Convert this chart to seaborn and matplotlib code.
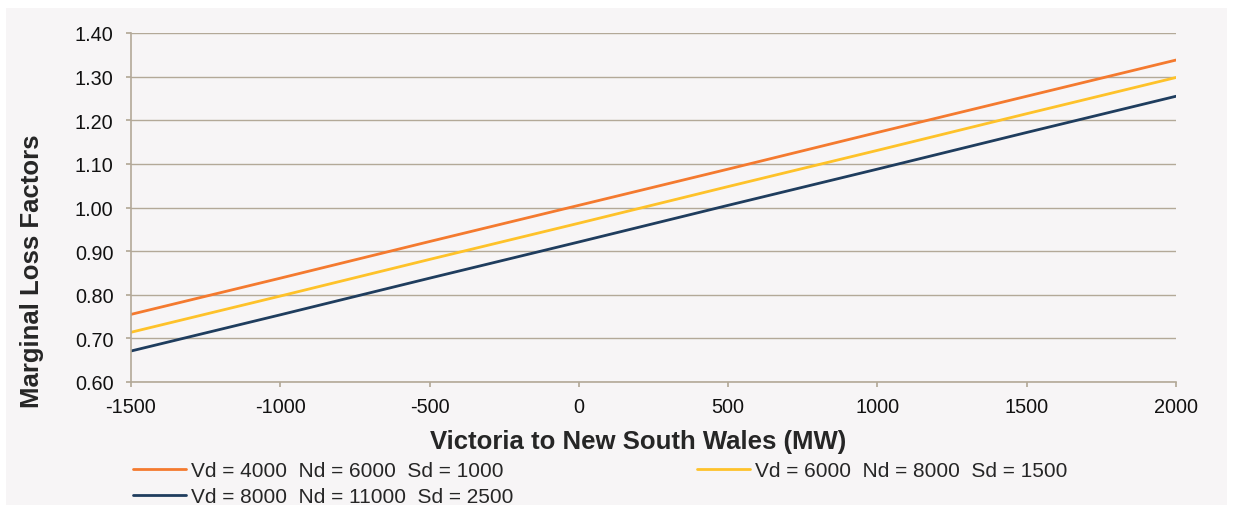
import numpy as np
import pandas as pd
import matplotlib
matplotlib.use('Agg')
import matplotlib.pyplot as plt
import seaborn as sns

# Data
flow_mw = [-1500, -1000, -500, 0, 500, 1000, 1500, 2000]
mlf_low = [0.755, 0.838, 0.922, 1.005, 1.088, 1.172, 1.255, 1.338]
mlf_mid = [0.714, 0.797, 0.881, 0.964, 1.048, 1.131, 1.215, 1.298]
mlf_high = [0.671, 0.754, 0.838, 0.921, 1.005, 1.088, 1.172, 1.255]
labels = ['Vd = 4000  Nd = 6000  Sd = 1000',
          'Vd = 6000  Nd = 8000  Sd = 1500',
          'Vd = 8000  Nd = 11000  Sd = 2500']
colors = ['#f47a2f', '#fec22a', '#1f3d5e']
y_ticks = [0.60, 0.70, 0.80, 0.90, 1.00, 1.10, 1.20, 1.30, 1.40]
x_ticks = [-1500, -1000, -500, 0, 500, 1000, 1500, 2000]

df = pd.DataFrame({
    'flow': flow_mw * 3,
    'mlf': mlf_low + mlf_mid + mlf_high,
    'case': [labels[0]] * 8 + [labels[1]] * 8 + [labels[2]] * 8,
})

sns.set_theme(style='white')
plt.rcParams['font.family'] = ['Liberation Sans', 'DejaVu Sans']

bg = '#f7f5f6'
grid_c = '#b3a998'

fig = plt.figure(figsize=(12.33, 5.06), dpi=100, facecolor='white')
fig.patches.append(plt.Rectangle((6 / 1233, 0), 1 - 12 / 1233, 1 - 9 / 506,
                                 transform=fig.transFigure, facecolor=bg,
                                 edgecolor='none', zorder=-10))
ax = fig.add_axes([131 / 1233, 1 - 383 / 506, (1176 - 131) / 1233, (383 - 34) / 506])
ax.set_facecolor(bg)

sns.lineplot(data=df, x='flow', y='mlf', hue='case', palette=colors,
             hue_order=labels, linewidth=2, ax=ax, legend=False)

ax.set_xlim(-1500, 2000)
ax.set_ylim(0.6, 1.4)
ax.set_xticks(x_ticks)
ax.set_yticks(y_ticks)
ax.set_xticklabels([str(v) for v in x_ticks], fontsize=14.3)
ax.set_yticklabels([f'{v:.2f}' for v in y_ticks], fontsize=14.3)
ax.yaxis.grid(True, color=grid_c, linewidth=1)
ax.set_axisbelow(True)
for s in ['top', 'right']:
    ax.spines[s].set_visible(False)
for s in ['left', 'bottom']:
    ax.spines[s].set_color(grid_c)
    ax.spines[s].set_linewidth(1.2)
ax.tick_params(axis='both', direction='out', length=3.6, color=grid_c,
               left=True, bottom=True, labelcolor='#111111')
ax.tick_params(axis='y', pad=9)
ax.tick_params(axis='x', pad=7)

ax.set_xlabel('Victoria to New South Wales (MW)', fontsize=18.5, fontweight='bold')
ax.set_ylabel('Marginal Loss Factors', fontsize=18.5, fontweight='bold')
ax.xaxis.set_label_coords(0.485, -0.135)
ax.yaxis.set_label_coords(-0.083, 0.321)

handles = [plt.Line2D([], [], color=c, linewidth=2) for c in colors]
order = [0, 2, 1]
fig.legend([handles[i] for i in order], [labels[i] for i in order],
           loc='upper left', bbox_to_anchor=(133 / 1233, 1 - 462 / 506),
           ncol=2, frameon=False, fontsize=15, handlelength=2.55,
           handletextpad=0.24, columnspacing=8.8, labelspacing=0.34,
           borderaxespad=0, borderpad=0)

fig.savefig('out.png', dpi=100, facecolor='white')
